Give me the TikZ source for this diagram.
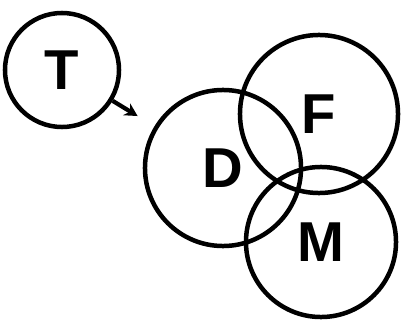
\documentclass[tikz,border=0pt]{standalone}
\usepackage{fontspec}
\setmainfont{Liberation Sans}
\usetikzlibrary{arrows.meta}

\begin{document}
\begin{tikzpicture}[
  x=0.025cm, y=-0.025cm,
  ring/.style={circle, draw, line width=3.2pt, inner sep=0pt, font=\fontsize{40}{40}\selectfont\bfseries},
  arrow/.style={-{Stealth[length=3.2mm, width=3.4mm]}, line width=3pt, shorten >=14pt},
]
  \useasboundingbox (0,0) rectangle (401,322);

  \node[ring, minimum size=2.85cm] (T) at (62,70) {T};
  \node[ring, minimum size=3.9cm] (D) at (223,168) {D};
  \node[ring, minimum size=3.95cm] (F) at (319,114) {F};
  \node[ring, minimum size=3.75cm] (M) at (321,242) {M};

  \draw[arrow] (T) -- (D);
\end{tikzpicture}
\end{document}
